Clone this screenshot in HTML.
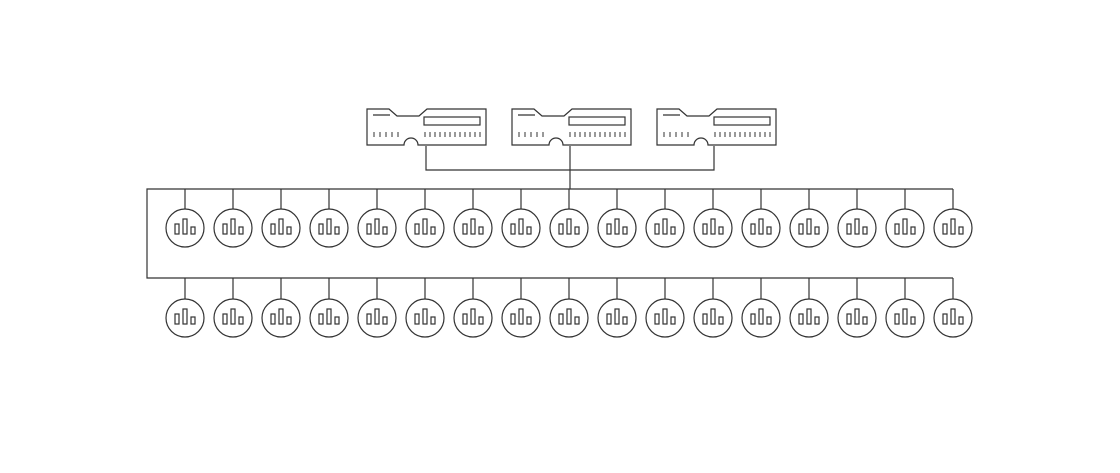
<!DOCTYPE html>
<html><head><style>body{margin:0;background:#fff}</style></head><body>
<svg width="1120" height="468" viewBox="0 0 1120 468" xmlns="http://www.w3.org/2000/svg">
<defs>
<g id="dev" fill="none" stroke="#333" stroke-width="1.2">
<path d="M0,1 H22 L30,8 H52 L60,1 H119 V37 H51 A7,7 0 0 0 37,37 H0 Z"/>
<line x1="6" y1="7" x2="23" y2="7"/>
<rect x="57" y="9" width="56" height="8"/>
<g stroke-width="1">
<path d="M7,24v5M13,24v5M19,24v5M25,24v5M31,24v5"/>
<path d="M58,24v5M63,24v5M68,24v5M73,24v5M78,24v5M83,24v5M88,24v5M93,24v5M98,24v5M103,24v5M108,24v5M113,24v5"/>
</g>
</g>
<g id="n" fill="none" stroke="#333" stroke-width="1.2">
<circle cx="0" cy="0" r="19"/>
<rect x="-10" y="-4" width="4" height="10"/>
<rect x="-2" y="-9" width="4" height="15"/>
<rect x="6" y="-1" width="4" height="7"/>
</g>
</defs>
<use href="#dev" x="367" y="108"/>
<use href="#dev" x="512" y="108"/>
<use href="#dev" x="657" y="108"/>
<g fill="none" stroke="#333" stroke-width="1.2">
<path d="M426,146 V170 H714 V146"/>
<path d="M570,146 V189"/>
<path d="M953,189 H147 V278 H953"/>
</g>
<script>
var s=document.querySelector('svg'),ns='http://www.w3.org/2000/svg';
for(var i=0;i<17;i++){var x=185+i*48;
[[189,228],[278,318]].forEach(function(p){
var l=document.createElementNS(ns,'line');l.setAttribute('x1',x);l.setAttribute('x2',x);l.setAttribute('y1',p[0]);l.setAttribute('y2',p[1]-19);l.setAttribute('stroke','#333');l.setAttribute('stroke-width','1.2');s.appendChild(l);
var u=document.createElementNS(ns,'use');u.setAttribute('href','#n');u.setAttribute('x',x);u.setAttribute('y',p[1]);s.appendChild(u);});}
</script>
</svg>
</body></html>
